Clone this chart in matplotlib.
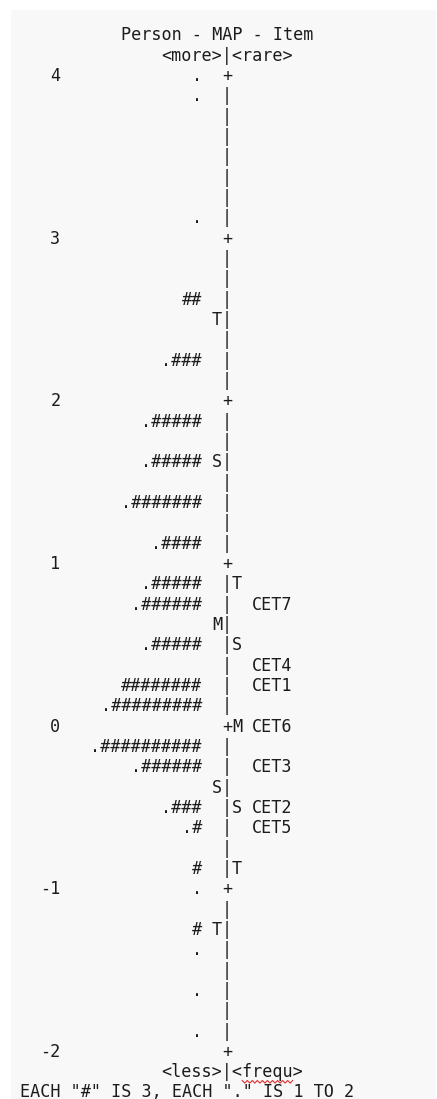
import numpy as np
import matplotlib
matplotlib.use("Agg")
import matplotlib.pyplot as plt
from matplotlib.patches import Rectangle

# ---- data ----
person_logit = [4.0, 3.875, 3.125, 2.625, 2.25, 1.875, 1.625, 1.375, 1.125,
                0.875, 0.75, 0.5, 0.25, 0.125, -0.125, -0.25, -0.5, -0.625,
                -0.875, -1.0, -1.25, -1.375, -1.625, -1.875]
person_marks = [".", ".", ".", "##", ".###", ".#####", ".#####", ".#######",
                ".####", ".#####", ".######", ".#####", "########",
                ".#########", ".##########", ".######", ".###", ".#", "#",
                ".", "#", ".", ".", "."]

person_stat_logit = [2.5, 1.625, 0.625, -0.375, -1.25]
person_stat_label = ["T", "S", "M", "S", "T"]

item_stat_logit = [0.875, 0.5, 0.0, -0.5, -0.875]
item_stat_label = ["T", "S", "M", "S", "T"]

item_logit = [0.75, 0.375, 0.25, 0.0, -0.25, -0.5, -0.625]
item_names = ["CET7", "CET4", "CET1", "CET6", "CET3", "CET2", "CET5"]

tick_values = [4, 3, 2, 1, 0, -1, -2]

title = "Person - MAP - Item"
top_label = "<more>|<rare>"
bottom_label = "<less>|<frequ>"
footnote = 'EACH "#" IS 3, EACH "." IS 1 TO 2'

# ---- layout (character grid) ----
W, H = 437, 1099
CW = 10.1        # px per character column
X0 = 20          # px of column 0
ROW = 0.125      # logits per text row
PX_PER_LOGIT = 162.67
Y4 = 76          # px of logit 4 row

fig = plt.figure(figsize=(W / 100, H / 100), dpi=100)
fig.patch.set_facecolor("white")

ax = fig.add_axes([0, 0, 1, 1])
ax.set_facecolor("none")
ax.set_xlim(-X0 / CW, (W - X0) / CW)
ax.set_ylim(4 - (H - Y4) / PX_PER_LOGIT, 4 + Y4 / PX_PER_LOGIT)
ax.axis("off")
ax.add_patch(Rectangle((11 / W, 0), (436 - 11) / W, (H - 10) / H,
                       transform=ax.transAxes, facecolor="#f8f8f8",
                       edgecolor="none", zorder=-10, clip_on=False))

txt = dict(family="DejaVu Sans Mono", fontsize=12.1, color="#1c1c1c",
           va="center")

# header / footer rows
ax.text(10, 4 + 2 * ROW, title, ha="left", **txt)
ax.text(14, 4 + ROW, top_label, ha="left", **txt)
ax.text(14, -2 - ROW, bottom_label, ha="left", **txt)
ax.text(0, -2 - 1.96 * ROW, footnote, ha="left", **txt)

# spell-check squiggle under "frequ"
sx = np.linspace(22, 27, 21)
sy = -2 - ROW - 0.058 + 0.008 * np.where(np.arange(21) % 2 == 0, 1, -1)
ax.plot(sx, sy, color="#e03030", lw=0.8)

# logit scale on the left
for v in tick_values:
    ax.text(4, v, str(v), ha="right", **txt)

# central axis: "+" on whole logits, "|" elsewhere
for y in np.arange(4, -2 - 1e-9, -ROW):
    ax.text(20, y, "+" if abs(y - round(y)) < 1e-9 else "|", ha="left", **txt)

# persons, right-aligned against column 18
for y, s in zip(person_logit, person_marks):
    ax.text(18, y, s, ha="right", **txt)

for y, s in zip(person_stat_logit, person_stat_label):
    ax.text(19, y, s, ha="left", **txt)

for y, s in zip(item_stat_logit, item_stat_label):
    ax.text(21, y, s, ha="left", **txt)

for y, s in zip(item_logit, item_names):
    ax.text(23, y, s, ha="left", **txt)

fig.savefig("out.png", dpi=100, facecolor=fig.get_facecolor())
